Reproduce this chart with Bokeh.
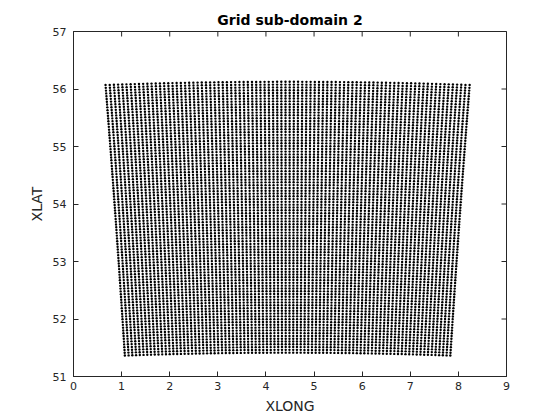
import numpy as np
from bokeh.plotting import figure
from bokeh.models import Range1d, FixedTicker
from bokeh.embed import file_html
from bokeh.resources import INLINE

# Grid definition (Lambert conformal model grid)
grid_ncols = 88
grid_nrows = 98
grid_dx_km = 5.4
center_lon = 4.45
center_lat = 53.77
true_lat = 53.77

x_ticks = [0, 1, 2, 3, 4, 5, 6, 7, 8, 9]
y_ticks = [51, 52, 53, 54, 55, 56, 57]
x_range = [0, 9]
y_range = [51, 57]

# Build grid lon/lat via inverse Lambert conformal projection
R = 6370.0
phi1 = np.radians(true_lat)
n = np.sin(phi1)
F = np.cos(phi1) * np.tan(np.pi / 4 + phi1 / 2) ** n / n
def rho_of(lat):
    return R * F / np.tan(np.pi / 4 + np.radians(lat) / 2) ** n
rho_c = rho_of(center_lat)
ix = (np.arange(grid_ncols) - (grid_ncols - 1) / 2) * grid_dx_km
iy = (np.arange(grid_nrows) - (grid_nrows - 1) / 2) * grid_dx_km
X, Y = np.meshgrid(ix, iy)
rho = np.sqrt(X ** 2 + (rho_c - Y) ** 2)
theta = np.arctan2(X, rho_c - Y)
lon = center_lon + np.degrees(theta / n)
lat = np.degrees(2 * np.arctan((R * F / rho) ** (1 / n)) - np.pi / 2)

TXT = "#262626"
p = figure(width=552, height=416, output_backend="svg", toolbar_location=None,
           x_range=Range1d(*x_range), y_range=Range1d(*y_range),
           min_border_left=73, min_border_right=46, min_border_top=31, min_border_bottom=36)
p.title.text = "Grid sub-domain 2"
p.title.align = "center"
p.title.text_font = "DejaVu Sans"
p.title.text_font_size = "14px"
p.title.text_font_style = "bold"
p.title.text_color = "#000000"
p.title.offset = 0
p.title.standoff = 8

p.xgrid.visible = False
p.ygrid.visible = False
p.outline_line_color = TXT
p.outline_line_width = 1
p.outline_line_alpha = 1

p.scatter(lon.ravel(), lat.ravel(), marker="circle", size=2.4, fill_color="black",
          line_color=None)

# tick marks on the top and right edges of the box (half of each dash is clipped)
p.scatter(x_ticks, [y_range[1]] * len(x_ticks), marker="dash", angle=np.pi / 2,
          size=10, line_color=TXT, line_width=1)
p.scatter([x_range[1]] * len(y_ticks), y_ticks, marker="dash", size=10,
          line_color=TXT, line_width=1)

for ax in (p.xaxis[0], p.yaxis[0]):
    ax.major_tick_in = 5
    ax.major_tick_out = 0
    ax.minor_tick_in = 0
    ax.minor_tick_out = 0
    ax.axis_line_color = TXT
    ax.major_tick_line_color = TXT
    ax.major_label_text_font = "DejaVu Sans"
    ax.major_label_text_font_size = "11px"
    ax.major_label_text_color = TXT
    ax.axis_label_text_font = "DejaVu Sans"
    ax.axis_label_text_font_size = "14px"
    ax.axis_label_text_font_style = "normal"
    ax.axis_label_text_color = TXT
p.xaxis[0].ticker = FixedTicker(ticks=x_ticks)
p.yaxis[0].ticker = FixedTicker(ticks=y_ticks)
p.xaxis[0].axis_label = "XLONG"
p.yaxis[0].axis_label = "XLAT"
p.xaxis[0].major_label_standoff = 5
p.yaxis[0].major_label_standoff = 7
p.xaxis[0].axis_label_standoff = 5
p.yaxis[0].axis_label_standoff = 5

open("out.html", "w").write(file_html(p, INLINE))
